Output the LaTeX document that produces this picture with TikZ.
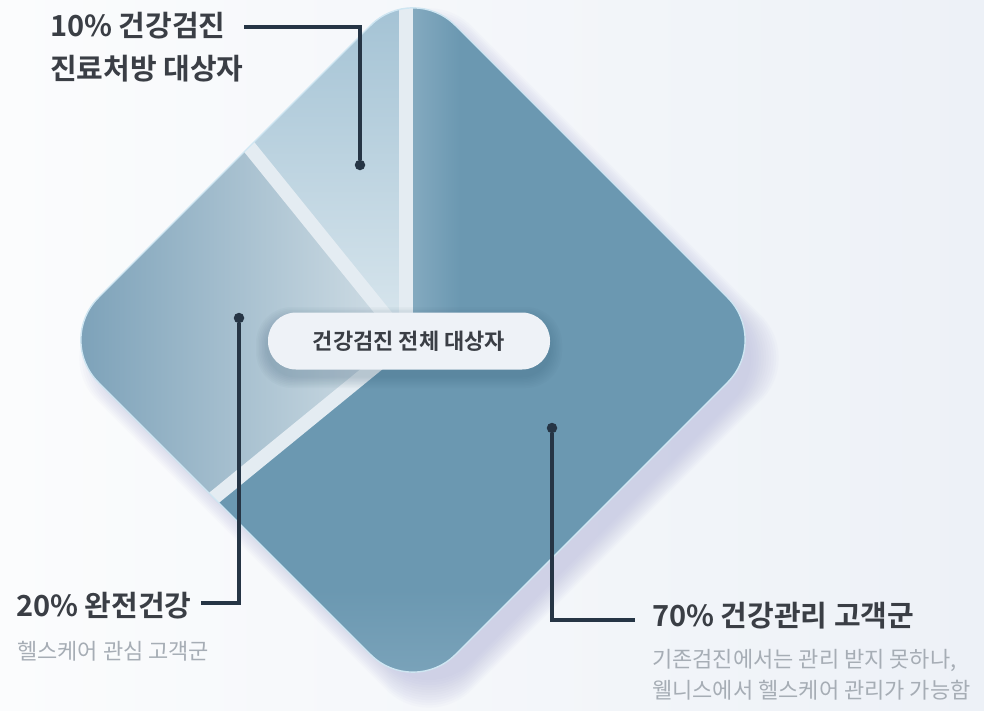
\documentclass[tikz,border=0pt]{standalone}
\usepackage{fontspec}
\setmainfont{Noto Sans CJK KR}[BoldFont={* Bold}]
\definecolor{bgL}{HTML}{FBFCFD}
\definecolor{bgR}{HTML}{EDF1F7}
\definecolor{shadowc}{HTML}{AEB0D8}
\definecolor{cSeventy}{HTML}{6B98B1}
\definecolor{cSeventyL}{HTML}{8EB1C5}
\definecolor{cTenA}{HTML}{A3C2D4}
\definecolor{cTenB}{HTML}{DAE7EE}
\definecolor{cTwentyA}{HTML}{7DA2B9}
\definecolor{cTwentyB}{HTML}{D5E1E8}
\definecolor{gapc}{HTML}{E4ECF2}
\definecolor{edgec}{HTML}{CFE6F2}
\definecolor{pillc}{HTML}{EEF2F7}
\definecolor{pillsh}{HTML}{3E5F78}
\definecolor{leadc}{HTML}{263545}
\definecolor{titlec}{HTML}{3A3E45}
\definecolor{subc}{HTML}{A6ADB5}
\tikzset{
  dpath/.style={insert path={(413,-17) -- (770,340) -- (413,697) -- (56,340) -- cycle}},
  leader/.style={draw=leadc, line width=3.2pt},
  dot/.style={circle, fill=leadc, minimum size=10.5pt, inner sep=0pt},
  title/.style={text=titlec, font=\bfseries\fontsize{29}{34}\selectfont, inner sep=0pt},
  subtext/.style={text=subc, font=\fontsize{22}{26}\selectfont, inner sep=0pt},
  pill/.style={fill=pillc, rounded corners=28pt, minimum width=282pt, minimum height=57pt,
    text=titlec, font=\bfseries\fontsize{22}{26}\selectfont},
  gap/.style={draw=gapc, line width=14pt}
}
\begin{document}
\begin{tikzpicture}[x=1pt,y=-1pt]
\useasboundingbox (0,0) rectangle (984,710);
\shade[left color=bgL, right color=bgR] (0,0) rectangle (984,710);
% soft shadow of the diamond
\foreach \i in {1,...,12}{
  \fill[shadowc, opacity=0.05, rounded corners=60pt, shift={(16,18)},
        scale around={0.965+0.007*\i:(413,340)}, dpath];
}
% diamond body
\begin{scope}
  \path[clip, rounded corners=60pt, dpath];
  \fill[cSeventy] (0,0) rectangle (984,710);
  \shade[left color=cSeventyL!75!cSeventy, right color=cSeventy] (410,0) rectangle (460,340);
  \shade[top color=cSeventy, bottom color=cSeventyL!55!cSeventy] (300,590) rectangle (600,700);
  \coordinate (C) at (406,341);
  % 10% region
  \begin{scope}
    \clip (C) -- (406,-700) -- (-218,-431) -- cycle;
    \shade[top color=cTenA, bottom color=cTenB] (240,0) rectangle (410,345);
  \end{scope}
  % 20% region
  \begin{scope}
    \clip (C) -- (-218,-431) -- (-358,965) -- cycle;
    \shade[left color=cTwentyA, right color=cTwentyB] (80,140) rectangle (410,520);
  \end{scope}
  % gaps
  \draw[gap] (C) -- ++(0,-500);
  \draw[gap] (C) -- ++(-312,-386);
  \draw[gap] (C) -- ++(-382,312);
\end{scope}
\draw[edgec, line width=1.4pt, rounded corners=60pt, dpath];
% soft shadow of the pill
\foreach \i in {1,...,8}{
  \fill[pillsh, opacity=0.035, rounded corners={28pt+\i*1pt}]
    (268-\i*1.5,319-\i*1.5) rectangle (550+\i*1.5,376+\i*1.5);
}
% centre pill
\node[pill] (pill) at (409,341) {건강검진 전체 대상자};
% labels
\node[title, anchor=base west] (t10a) at (50,36) {10\% 건강검진};
\node[title, anchor=base west] (t10b) at (50,79) {진료처방 대상자};
\node[title, anchor=base west] (t20) at (16,616) {20\% 완전건강};
\node[subtext, anchor=base west] (s20t) at (17,659) {헬스케어 관심 고객군};
\node[title, anchor=base west] (t70) at (652,626) {70\% 건강관리 고객군};
\node[subtext, anchor=base west] (s70a) at (652,667) {기존검진에서는 관리 받지 못하나,};
\node[subtext, anchor=base west] (s70b) at (652,698) {웰니스에서 헬스케어 관리가 가능함};
% leaders
\node[dot] (d10) at (360,165) {};
\node[dot] (d20) at (239,318) {};
\node[dot] (d70) at (552,428) {};
\coordinate (s10) at (244,27);
\coordinate (k10) at (360,27);
\coordinate (s20) at (201,603);
\coordinate (k20) at (239,603);
\coordinate (k70) at (552,620);
\coordinate (e70) at (635,620);
\draw[leader] (s10) -- (k10) -- (d10);
\draw[leader] (s20) -- (k20) -- (d20);
\draw[leader] (d70) -- (k70) -- (e70);
\end{tikzpicture}
\end{document}
